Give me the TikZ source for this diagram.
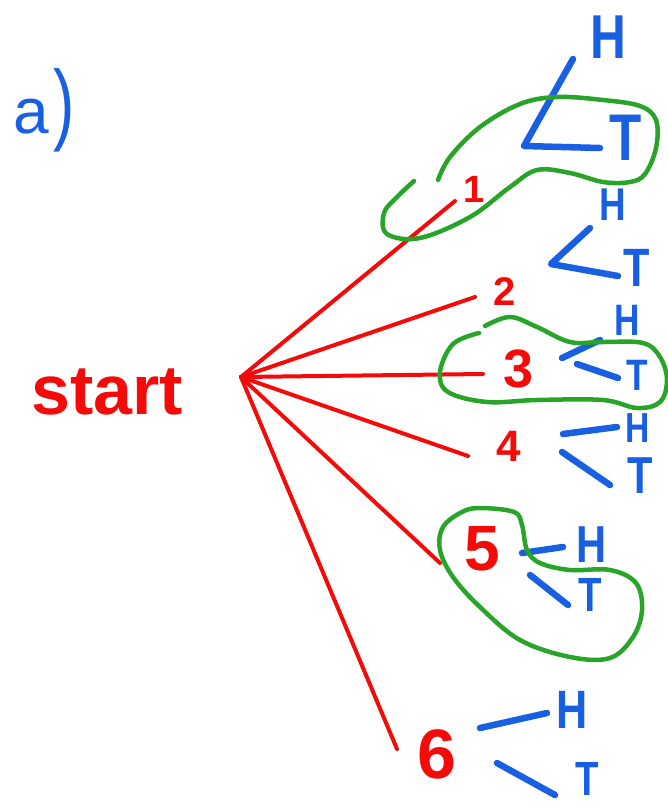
\documentclass[tikz,border=0pt]{standalone}
\usepackage{fontspec}
\setmainfont{Liberation Sans}
\definecolor{pen red}{RGB}{245,10,10}
\definecolor{pen blue}{RGB}{25,95,225}
\definecolor{pen green}{RGB}{40,165,40}
\tikzset{
  redline/.style={draw=pen red, line width=4pt, line cap=round},
  blueline/.style={draw=pen blue, line width=6.5pt, line cap=round, line join=round},
  loopline/.style={draw=pen green, line width=4.5pt, line cap=round},
  numlabel/.style={text=pen red, font=\bfseries\fontsize{50}{50}\selectfont, inner sep=0pt},
  coin/.style={text=pen blue, font=\bfseries\fontsize{50}{50}\selectfont, inner sep=0pt},
}
\newcommand{\narrow}[1]{\scalebox{0.8}[1]{#1}}
\begin{document}
\begin{tikzpicture}[x=1pt, y=-1pt]
\useasboundingbox (0,0) rectangle (668,809);

% part label and root text
\node[text=pen blue, font=\fontsize{64}{64}\selectfont, inner sep=0pt] (part) at (44,110) {a\hspace{4pt}\scalebox{1}[1.4]{)}};
\node[text=pen red, font=\bfseries\fontsize{70}{70}\selectfont, inner sep=0pt] (start) at (107,392) {start};

% root of the tree and the ends of the six red branches
\coordinate (root) at (241,377);
\coordinate (e1) at (455,201);
\coordinate (e2) at (475,297);
\coordinate (e3) at (483,374);
\coordinate (e4) at (468,456);
\coordinate (e5) at (440,563);
\coordinate (e6) at (397,749);

\foreach \i in {1,...,6} \draw[redline] (root) -- (e\i);

% die outcomes
\node[numlabel, font=\bfseries\fontsize{38}{38}\selectfont] (n1) at (474,189) {1};
\node[numlabel, font=\bfseries\fontsize{40}{40}\selectfont] (n2) at (505,292) {2};
\node[numlabel, font=\bfseries\fontsize{54}{54}\selectfont] (n3) at (519,369) {3};
\node[numlabel, font=\bfseries\fontsize{44}{44}\selectfont] (n4) at (509,446) {4};
\node[numlabel, font=\bfseries\fontsize{64}{64}\selectfont] (n5) at (482,549) {5};
\node[numlabel, font=\bfseries\fontsize{70}{70}\selectfont] (n6) at (437,754) {6};

% coin outcomes
\node[coin, font=\bfseries\fontsize{62}{62}\selectfont] (h1) at (608,37) {\narrow{H}};
\node[coin, font=\bfseries\fontsize{66}{66}\selectfont] (t1) at (626,138) {\narrow{T}};
\node[coin, font=\bfseries\fontsize{46}{46}\selectfont] (h2) at (613,205) {\narrow{H}};
\node[coin, font=\bfseries\fontsize{54}{54}\selectfont] (t2) at (637,268) {\narrow{T}};
\node[coin, font=\bfseries\fontsize{44}{44}\selectfont] (h3) at (627,320) {\narrow{H}};
\node[coin, font=\bfseries\fontsize{44}{44}\selectfont] (t3) at (637,375) {\narrow{T}};
\node[coin, font=\bfseries\fontsize{42}{42}\selectfont] (h4) at (638,428) {\narrow{H}};
\node[coin, font=\bfseries\fontsize{52}{52}\selectfont] (t4) at (640,476) {\narrow{T}};
\node[coin, font=\bfseries\fontsize{52}{52}\selectfont] (h5) at (592,545) {\narrow{H}};
\node[coin, font=\bfseries\fontsize{48}{48}\selectfont] (t5) at (590,595) {\narrow{T}};
\node[coin, font=\bfseries\fontsize{54}{54}\selectfont] (h6) at (572,710) {\narrow{H}};
\node[coin, font=\bfseries\fontsize{48}{48}\selectfont] (t6) at (587,779) {\narrow{T}};

% coin branches
\coordinate (v1) at (524,146); \coordinate (a1) at (573,59); \coordinate (b1) at (600,148);
\coordinate (v2) at (551,264); \coordinate (a2) at (590,228); \coordinate (b2) at (618,276);
\draw[blueline] (a1) -- (v1) -- (b1);
\draw[blueline] (a2) -- (v2) -- (b2);
\coordinate (u3) at (562,358); \coordinate (a3) at (600,340);
\coordinate (l3) at (577,364); \coordinate (b3) at (618,378);
\coordinate (u4) at (563,434); \coordinate (a4) at (617,427);
\coordinate (l4) at (562,452); \coordinate (b4) at (610,485);
\coordinate (u5) at (522,553); \coordinate (a5) at (563,547);
\coordinate (l5) at (530,575); \coordinate (b5) at (568,605);
\coordinate (u6) at (480,728); \coordinate (a6) at (547,713);
\coordinate (l6) at (497,763); \coordinate (b6) at (555,795);
\foreach \i in {3,...,6} {
  \draw[blueline] (u\i) -- (a\i);
  \draw[blueline] (l\i) -- (b\i);
}

% events ringed in green
\draw[loopline] plot[smooth, tension=0.6] coordinates {
  (438,180) (450,157) (480,127) (520,104) (557,97) (603,100) (640,106)
  (656,120) (656,148) (645,174) (630,182) (603,182) (570,173) (537,170)
  (510,187) (470,217) (420,238) (387,234) (384,213) (397,197) (414,181)};
\draw[loopline] plot[smooth, tension=0.6] coordinates {
  (485,326) (510,317) (537,327) (570,342) (603,342) (643,343) (660,357)
  (667,380) (660,402) (637,408) (603,400) (537,400) (487,402) (448,392)
  (440,372) (453,344) (479,333)};
\draw[loopline] plot[smooth cycle, tension=0.6] coordinates {
  (480,508) (514,512) (522,525) (527,550) (540,563) (570,570) (610,570)
  (636,583) (642,610) (633,637) (610,658) (570,657) (520,640) (480,607)
  (453,577) (440,550) (443,527) (462,512)};
\end{tikzpicture}
\end{document}
